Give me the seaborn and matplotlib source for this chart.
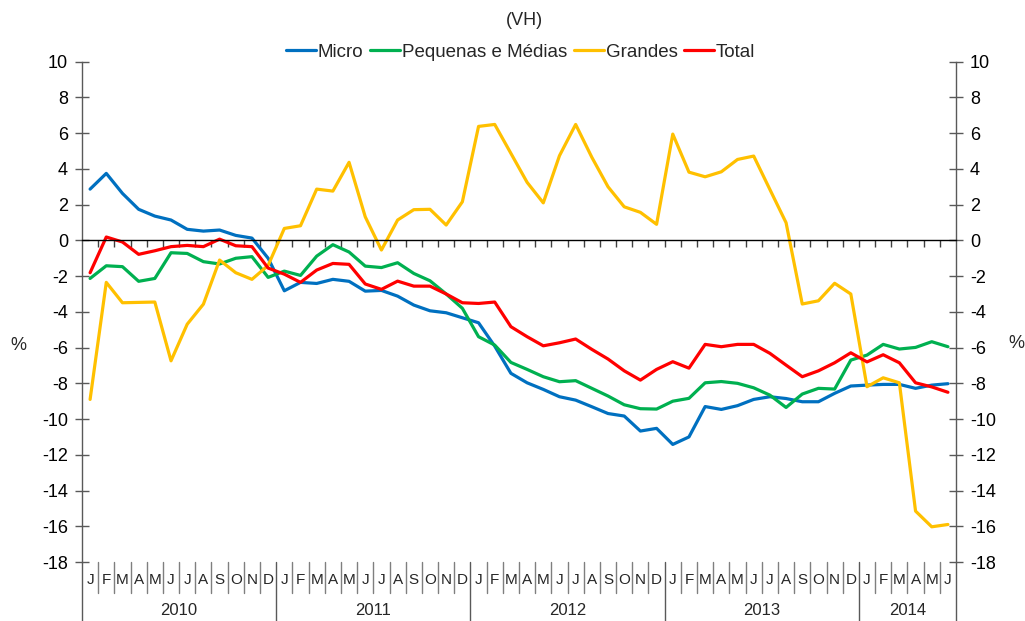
import matplotlib
matplotlib.use("Agg")
import matplotlib.pyplot as plt
import numpy as np
import pandas as pd
import seaborn as sns

# ---------------------------------------------------------------------------
# Data (monthly, Jan 2010 - Jun 2014)
# ---------------------------------------------------------------------------
MONTH_LETTERS = list("JFMAMJJASOND")
YEARS = ["2010", "2011", "2012", "2013", "2014"]
N_MONTHS = 54

micro = [2.87, 3.75, 2.63, 1.74, 1.36, 1.14, 0.62, 0.52, 0.58, 0.28, 0.13, -1.0,
         -2.82, -2.35, -2.41, -2.18, -2.29, -2.84, -2.80, -3.12, -3.62, -3.94, -4.05, -4.33,
         -4.61, -5.92, -7.44, -7.97, -8.34, -8.75, -8.94, -9.31, -9.69, -9.83, -10.67, -10.52,
         -11.42, -11.0, -9.3, -9.46, -9.25, -8.9, -8.75, -8.85, -9.03, -9.03, -8.56, -8.15,
         -8.1, -8.06, -8.06, -8.28, -8.1, -8.02]
pme = [-2.13, -1.42, -1.47, -2.29, -2.13, -0.69, -0.73, -1.19, -1.32, -1.0, -0.91, -2.07,
       -1.72, -1.96, -0.88, -0.24, -0.65, -1.44, -1.52, -1.25, -1.85, -2.26, -3.0, -3.8,
       -5.39, -5.86, -6.83, -7.22, -7.63, -7.91, -7.85, -8.28, -8.71, -9.2, -9.42, -9.44,
       -9.0, -8.84, -7.97, -7.9, -8.0, -8.25, -8.66, -9.35, -8.6, -8.28, -8.32, -6.7,
       -6.42, -5.82, -6.08, -5.99, -5.67, -5.95]
grandes = [-8.9, -2.35, -3.49, -3.47, -3.45, -6.74, -4.69, -3.57, -1.1, -1.81, -2.18, -1.4,
           0.67, 0.82, 2.87, 2.76, 4.37, 1.32, -0.54, 1.14, 1.72, 1.74, 0.86, 2.16,
           6.38, 6.49, 4.87, 3.25, 2.1, 4.74, 6.49, 4.65, 3.0, 1.88, 1.57, 0.9,
           5.95, 3.82, 3.56, 3.84, 4.53, 4.72, 2.85, 0.99, -3.56, -3.38, -2.4, -3.0,
           -8.19, -7.69, -7.97, -15.15, -16.03, -15.9]
total = [-1.81, 0.19, -0.09, -0.78, -0.58, -0.35, -0.28, -0.35, 0.07, -0.3, -0.35, -1.55,
         -1.89, -2.35, -1.66, -1.29, -1.34, -2.44, -2.74, -2.28, -2.56, -2.56, -3.0, -3.49,
         -3.53, -3.45, -4.83, -5.39, -5.9, -5.73, -5.52, -6.1, -6.64, -7.3, -7.82, -7.22,
         -6.79, -7.15, -5.82, -5.95, -5.82, -5.82, -6.32, -6.98, -7.63, -7.3, -6.85, -6.29,
         -6.8, -6.4, -6.85, -7.97, -8.2, -8.5]

SERIES = {
    "Micro": micro,
    "Pequenas e Médias": pme,
    "Grandes": grandes,
    "Total": total,
}
COLORS = {
    "Micro": "#0070C0",
    "Pequenas e Médias": "#00B050",
    "Grandes": "#FFC000",
    "Total": "#FF0000",
}

# ---------------------------------------------------------------------------
# Plot
# ---------------------------------------------------------------------------
sns.set_theme(style="white")
plt.rcParams["font.family"] = ["Liberation Sans", "DejaVu Sans"]
plt.rcParams["axes.unicode_minus"] = False

df = pd.concat(
    [pd.DataFrame({"idx": np.arange(N_MONTHS), "value": vals, "serie": name})
     for name, vals in SERIES.items()],
    ignore_index=True,
)

fig = plt.figure(figsize=(10.25, 6.21), dpi=100)
ax = fig.add_axes([0.080, 0.095, 0.8527, 0.8056])

sns.lineplot(data=df, x="idx", y="value", hue="serie", hue_order=list(SERIES),
             palette=COLORS, linewidth=2.3, ax=ax, legend=False)

ax.set_xlim(-0.5, N_MONTHS - 0.5)
ax.set_ylim(-18, 10)
ax.set_yticks(np.arange(-18, 11, 2))
ax.set_xlabel("")
ax.set_ylabel("")

spine_col = "#595959"
ax.spines["top"].set_visible(False)
for side in ("left", "right"):
    ax.spines[side].set_color(spine_col)
    ax.spines[side].set_linewidth(1.0)
ax.spines["bottom"].set_position(("data", 0))
ax.spines["bottom"].set_color("black")
ax.spines["bottom"].set_linewidth(1.0)

ax.tick_params(axis="y", left=True, right=True, labelleft=True, labelright=True,
               direction="inout", length=10, width=1.0, color=spine_col,
               labelsize=13, pad=5, labelcolor="black")
ax.set_xticks(np.arange(0.5, N_MONTHS - 1, 1))
ax.set_xticklabels([])
ax.tick_params(axis="x", bottom=True, direction="out", length=5, width=1.0,
               color="#404040")

# category axis below the plot: months, separators, years
trans = ax.get_xaxis_transform()
for i in range(N_MONTHS):
    ax.text(i, -0.036, MONTH_LETTERS[i % 12], transform=trans, ha="center",
            va="center", fontsize=11, clip_on=False)
for b in np.arange(-0.5, N_MONTHS, 1):
    year_edge = (b + 0.5) % 12 == 0 or b == N_MONTHS - 0.5
    low = -0.118 if year_edge else -0.061
    col = spine_col if year_edge else "#7f7f7f"
    ax.plot([b, b], [0, low], transform=trans, color=col, lw=1.0, clip_on=False)
for k, yr in enumerate(YEARS):
    start = 12 * k
    end = min(12 * k + 11, N_MONTHS - 1)
    ax.text((start + end) / 2, -0.097, yr, transform=trans, ha="center",
            va="center", fontsize=12, clip_on=False)

fig.text(0.018, 0.444, "%", ha="center", va="center", fontsize=13)
fig.text(0.992, 0.447, "%", ha="center", va="center", fontsize=13)
fig.text(0.512, 0.967, "(VH)", ha="center", va="center", fontsize=13)

handles = [plt.Line2D([], [], color=COLORS[n], lw=2.3) for n in SERIES]
fig.legend(handles, list(SERIES), loc="center", bbox_to_anchor=(0.508, 0.916),
           ncol=4, frameon=False, fontsize=13.5, handlelength=1.6,
           handletextpad=0.1, columnspacing=0.35, borderaxespad=0)

fig.savefig("out.png", dpi=100)
plt.close(fig)
